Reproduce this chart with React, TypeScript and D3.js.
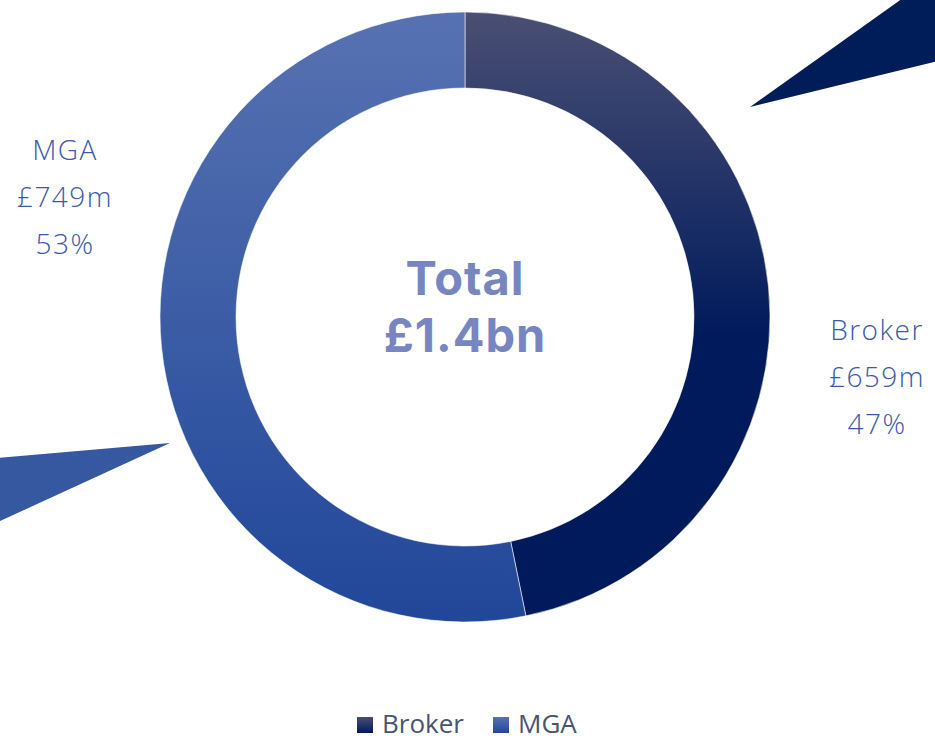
import React, { useEffect, useRef } from 'react';
import * as d3 from 'd3';

// segment data (£m)
const segments = ['Broker', 'MGA'];
const values = [659, 749];
const shares = ['47%', '53%'];
const amounts = ['£659m', '£749m'];
const totalLabel = ['Total', '£1.4bn'];

const gradTop = ['#4a4f73', '#5772b1'];
const gradBottom = ['#001a5c', '#21479a'];
const labelColor = '#3a5aa8';

const App = () => {
  const ref = useRef<SVGSVGElement>(null);

  useEffect(() => {
    const W = 935;
    const H = 740;
    const cx = 465;
    const cy = 317;
    const outerR = 305;
    const innerR = 229;

    const svg = d3.select(ref.current);
    svg.selectAll('*').remove();
    svg.attr('width', W).attr('height', H);

    const defs = svg.append('defs');
    // gradients are in the donut group's local coords (centre = 0,0)
    const gradStops = [
      [-outerR, 20],
      [-outerR, outerR],
    ];
    segments.forEach((s, i) => {
      const g = defs.append('linearGradient')
        .attr('id', `grad-${i}`)
        .attr('gradientUnits', 'userSpaceOnUse')
        .attr('x1', 0).attr('x2', 0)
        .attr('y1', gradStops[i][0]).attr('y2', gradStops[i][1]);
      g.append('stop').attr('offset', 0).attr('stop-color', gradTop[i]);
      g.append('stop').attr('offset', 1).attr('stop-color', gradBottom[i]);

      const lg = defs.append('linearGradient')
        .attr('id', `lgrad-${i}`)
        .attr('x1', 0).attr('x2', 0).attr('y1', 0).attr('y2', 1);
      lg.append('stop').attr('offset', 0).attr('stop-color', gradTop[i]);
      lg.append('stop').attr('offset', 1).attr('stop-color', gradBottom[i]);
    });

    // callout wedges (leader shapes running off the canvas)
    const callouts = [
      { tip: [285, -210], a: [535, -388], b: [535, -271], color: '#001d5a' },
      { tip: [-295, 126], a: [-515, 145], b: [-515, 227], color: '#3558a0' },
    ];
    svg.append('g')
      .selectAll('path')
      .data(callouts)
      .enter()
      .append('path')
      .attr('d', d => d3.line()([d.tip, d.a, d.b].map(p => [cx + p[0], cy + p[1]]) as [number, number][]) + 'Z')
      .attr('fill', d => d.color);

    const pie = d3.pie<number>().sort(null).value(d => d);
    const arc = d3.arc<d3.PieArcDatum<number>>().innerRadius(innerR).outerRadius(outerR);

    const g = svg.append('g').attr('transform', `translate(${cx},${cy})`);
    g.selectAll('path')
      .data(pie(values))
      .enter()
      .append('path')
      .attr('d', arc)
      .attr('fill', (d, i) => `url(#grad-${i})`)
      .attr('stroke', 'rgba(255,255,255,0.55)')
      .attr('stroke-width', 1);

    // centre total
    g.append('text')
      .attr('text-anchor', 'middle')
      .style('font-family', 'Inter, "Noto Sans", sans-serif')
      .style('font-weight', 700)
      .style('font-size', '47px')
      .style('letter-spacing', '1px')
      .attr('fill', '#7786c0')
      .selectAll('tspan')
      .data(totalLabel)
      .enter()
      .append('tspan')
      .attr('x', 0)
      .attr('y', (d, i) => -22 + i * 57)
      .text(d => d);

    // side labels
    const labelPos = [
      [877, 340],
      [65, 160],
    ];
    segments.forEach((s, i) => {
      svg.append('text')
        .attr('text-anchor', 'middle')
        .style('font-family', '"Open Sans", Lato, sans-serif')
        .style('font-weight', 300)
        .style('font-size', '28px')
        .style('letter-spacing', '1.5px')
        .attr('fill', labelColor)
        .selectAll('tspan')
        .data([s, amounts[i], shares[i]])
        .enter()
        .append('tspan')
        .attr('x', labelPos[i][0])
        .attr('y', (d, j) => labelPos[i][1] + j * 47)
        .text(d => d);
    });

    // legend
    const legend = svg.append('g').attr('transform', 'translate(357,714)');
    const offsets = [0, 136];
    segments.forEach((s, i) => {
      const item = legend.append('g').attr('transform', `translate(${offsets[i]},0)`);
      item.append('rect')
        .attr('y', 3)
        .attr('width', 16).attr('height', 16)
        .attr('fill', `url(#lgrad-${i})`);
      item.append('text')
        .attr('x', 25)
        .attr('y', 19)
        .style('font-family', '"Open Sans", sans-serif')
        .style('font-size', '26px')
        .attr('fill', '#475570')
        .text(s);
    });
  }, []);

  return (
    <div style={{ position: 'absolute', left: 0, top: 0 }}>
      <svg ref={ref} style={{ display: 'block' }} />
    </div>
  );
};

export default App;
